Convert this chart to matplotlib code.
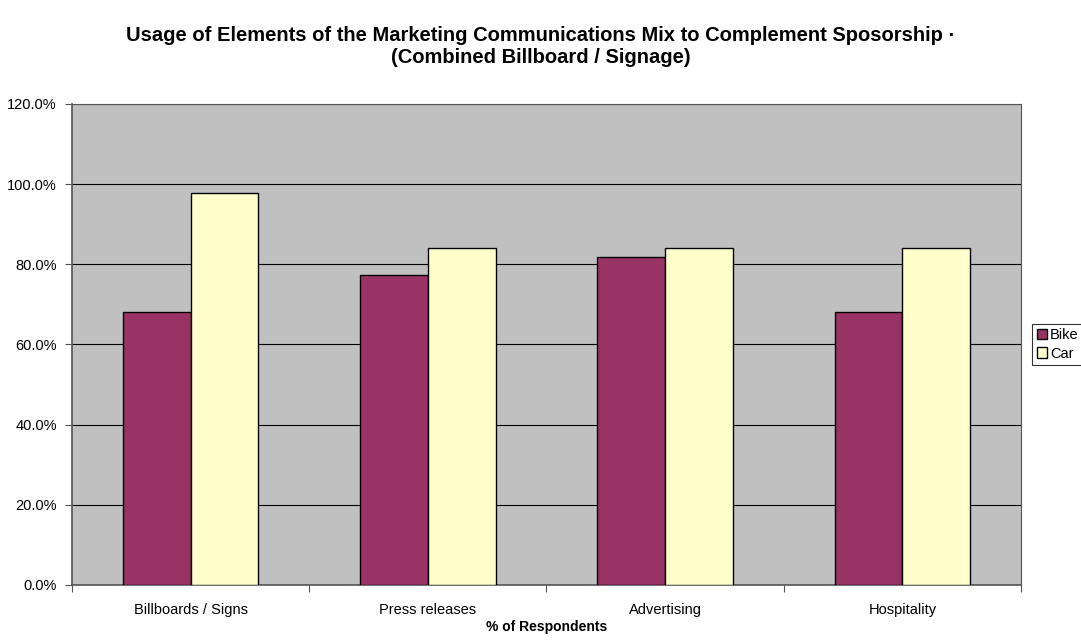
import matplotlib.pyplot as plt
import numpy as np

plt.rcParams["font.family"] = ["Liberation Sans", "DejaVu Sans"]

categories = ["Billboards / Signs", "Press releases", "Advertising", "Hospitality"]
bike = [68.2, 77.3, 81.8, 68.2]
car = [97.7, 84.1, 84.1, 84.1]

fig = plt.figure(figsize=(10.81, 6.41), dpi=100)
ax = fig.add_axes([0.0666, 0.0874, 0.8779, 0.7504])
ax.set_facecolor("#c0c0c0")

x = np.arange(len(categories))
w = 1 / 3.5
ax.bar(x - w / 2, bike, w, color="#993366", edgecolor="black", linewidth=1.0,
       label="Bike", zorder=3)
ax.bar(x + w / 2, car, w, color="#ffffcc", edgecolor="black", linewidth=1.0,
       label="Car", zorder=3)

ax.set_xlim(-0.5, len(categories) - 0.5)
ax.set_ylim(0, 120)
ax.set_yticks(np.arange(0, 121, 20))
ax.set_yticklabels([f"{v:.1f}%" for v in np.arange(0, 121, 20)], fontsize=10.5)
ax.yaxis.grid(True, color="black", linewidth=0.8, zorder=1)
ax.set_axisbelow(True)

ax.set_xticks(np.arange(-0.5, len(categories), 1))
ax.set_xticklabels([])
ax.set_xticks(x, minor=True)
ax.set_xticklabels(categories, minor=True, fontsize=10.5)
ax.tick_params(axis="x", which="minor", length=0, pad=13)
ax.tick_params(axis="x", which="major", length=5, direction="out", color="#555555")
ax.tick_params(axis="y", length=5, direction="out", color="#555555", pad=6)

for side in ["top", "right"]:
    ax.spines[side].set_color("#555555")
for side in ["left", "bottom"]:
    ax.spines[side].set_color("#555555")
    ax.spines[side].set_linewidth(1.2)

ax.set_xlabel("% of Respondents", fontsize=10, fontweight="bold", labelpad=2)

fig.suptitle("Usage of Elements of the Marketing Communications Mix to Complement Sposorship \u00b7\n"
             "(Combined Billboard / Signage)",
             fontsize=14.5, fontweight="bold", y=0.96, linespacing=1.25)

leg = ax.legend(loc="center left", bbox_to_anchor=(1.012, 0.5), fontsize=10.5,
                frameon=True, fancybox=False, edgecolor="black", handlelength=0.7,
                handleheight=0.7, handletextpad=0.2, borderpad=0.3, labelspacing=0.3,
                borderaxespad=0)
leg.get_frame().set_linewidth(0.8)

fig.savefig("out.png", dpi=100)
